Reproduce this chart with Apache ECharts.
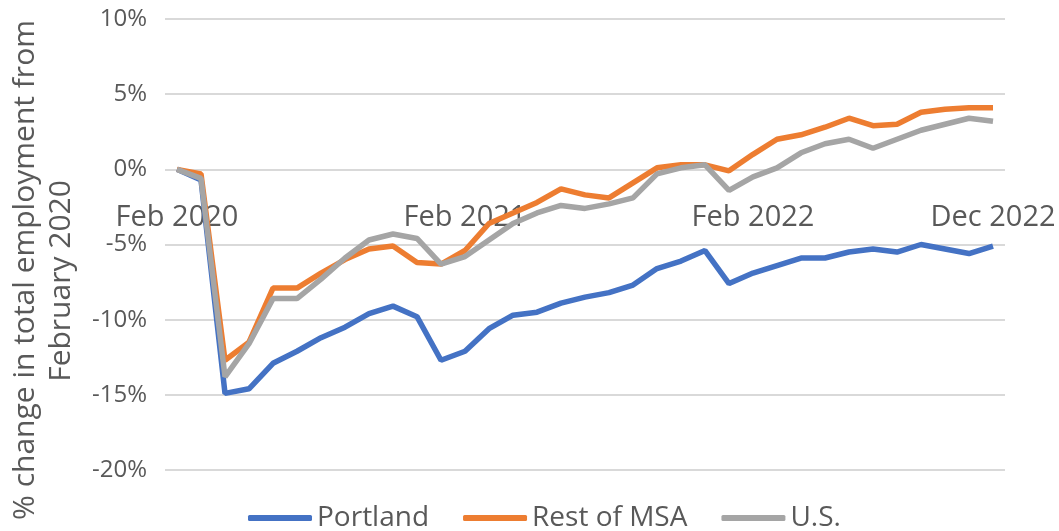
<!DOCTYPE html>
<html>
<head>
<meta charset="utf-8">
<script src="https://cdn.jsdelivr.net/npm/echarts@6/dist/echarts.min.js"></script>
<style>
  html, body { margin: 0; padding: 0; background: #fff; }
  #chart { width: 1059px; height: 531px; }
</style>
</head>
<body>
<div id="chart"></div>
<script>
var months = [
  'Feb 2020','Mar 2020','Apr 2020','May 2020','Jun 2020','Jul 2020','Aug 2020','Sep 2020','Oct 2020','Nov 2020','Dec 2020',
  'Jan 2021','Feb 2021','Mar 2021','Apr 2021','May 2021','Jun 2021','Jul 2021','Aug 2021','Sep 2021','Oct 2021','Nov 2021','Dec 2021',
  'Jan 2022','Feb 2022','Mar 2022','Apr 2022','May 2022','Jun 2022','Jul 2022','Aug 2022','Sep 2022','Oct 2022','Nov 2022','Dec 2022'
];
// labels shown on the x axis
var shownLabels = ['Feb 2020', 'Feb 2021', 'Feb 2022', 'Dec 2022'];

var portland = [0, -0.7, -14.9, -14.6, -12.9, -12.1, -11.2, -10.5, -9.6, -9.1, -9.8,
  -12.7, -12.1, -10.6, -9.7, -9.5, -8.9, -8.5, -8.2, -7.7, -6.6, -6.1, -5.4,
  -7.6, -6.9, -6.4, -5.9, -5.9, -5.5, -5.3, -5.5, -5.0, -5.3, -5.6, -5.1];
var restOfMsa = [0, -0.3, -12.7, -11.5, -7.9, -7.9, -6.9, -6.0, -5.3, -5.1, -6.2,
  -6.3, -5.4, -3.6, -2.9, -2.2, -1.3, -1.7, -1.9, -0.9, 0.1, 0.3, 0.3,
  -0.1, 1.0, 2.0, 2.3, 2.8, 3.4, 2.9, 3.0, 3.8, 4.0, 4.1, 4.1];
var us = [0, -0.6, -13.8, -11.6, -8.6, -8.6, -7.3, -5.9, -4.7, -4.3, -4.6,
  -6.3, -5.8, -4.7, -3.6, -2.9, -2.4, -2.6, -2.3, -1.9, -0.3, 0.1, 0.3,
  -1.4, -0.5, 0.1, 1.1, 1.7, 2.0, 1.4, 2.0, 2.6, 3.0, 3.4, 3.2];

var font = '"Open Sans", "Noto Sans", sans-serif';
var textColor = '#595959';

var gridTop = 19, gridBottom = 61, yMin = -20, yMax = 10;
var plotH = 531 - gridTop - gridBottom;
// move the category axis up from the bottom to the 0% line
var zeroOffset = -plotH * (0 - yMin) / (yMax - yMin);

var myChart = echarts.init(document.getElementById('chart'));
myChart.setOption({
  animation: false,
  color: ['#4472C4', '#ED7D31', '#A5A5A5'],
  grid: { left: 165, right: 54, top: gridTop, bottom: gridBottom },
  legend: {
    left: 243,
    top: 499,
    icon: 'roundRect',
    itemWidth: 64,
    itemHeight: 6,
    itemGap: 34,
    textStyle: { color: textColor, fontSize: 28, fontFamily: font },
    data: ['Portland', 'Rest of MSA', 'U.S.']
  },
  graphic: [{
    type: 'text',
    x: 25,
    y: 270,
    rotation: Math.PI / 2,
    style: {
      text: '% change in total employment from',
      fill: textColor,
      font: '30px ' + font,
      align: 'center',
      verticalAlign: 'middle'
    }
  }, {
    type: 'text',
    x: 61,
    y: 281,
    rotation: Math.PI / 2,
    style: {
      text: 'February 2020',
      fill: textColor,
      font: '30px ' + font,
      align: 'center',
      verticalAlign: 'middle'
    }
  }],
  xAxis: {
    type: 'category',
    data: months,
    boundaryGap: true,
    position: 'bottom',
    offset: zeroOffset,
    axisLine: { show: false, onZero: false },
    axisTick: { show: false },
    axisLabel: {
      color: textColor,
      fontSize: 29,
      fontFamily: font,
      margin: 34,
      interval: function (idx, val) { return shownLabels.indexOf(val) >= 0; }
    },
    splitLine: { show: false }
  },
  yAxis: {
    type: 'value',
    min: yMin,
    max: yMax,
    interval: 5,
    axisLine: { show: false },
    axisTick: { show: false },
    axisLabel: {
      formatter: '{value}%',
      color: textColor,
      fontSize: 24,
      fontFamily: font,
      margin: 18
    },
    splitLine: { lineStyle: { color: '#D9D9D9', width: 2 } }
  },
  series: [
    { name: 'Portland', type: 'line', data: portland, symbol: 'none', lineStyle: { width: 5.5 } },
    { name: 'Rest of MSA', type: 'line', data: restOfMsa, symbol: 'none', lineStyle: { width: 5.5 } },
    { name: 'U.S.', type: 'line', data: us, symbol: 'none', lineStyle: { width: 5.5 } }
  ]
});
</script>
</body>
</html>
